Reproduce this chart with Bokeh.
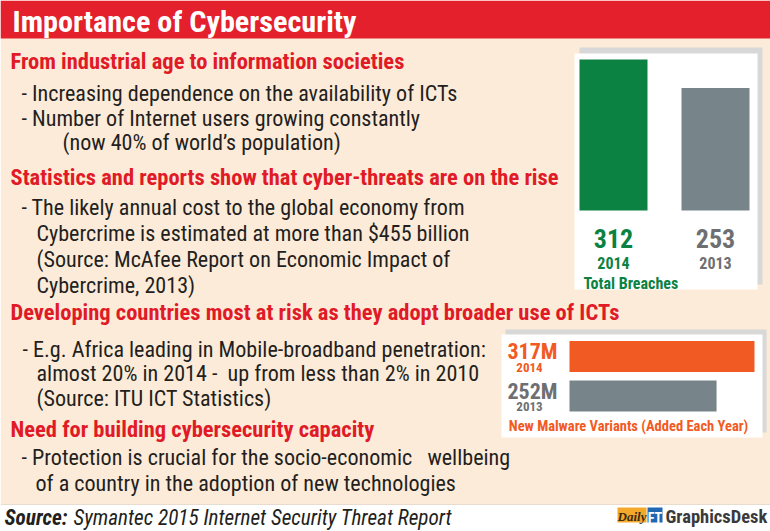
import re
from bokeh.plotting import figure
from bokeh.models import Range1d
from bokeh.core.properties import value
from bokeh.embed import file_html
from bokeh.resources import INLINE

# ---------------- data ----------------
title_text = "Importance of Cybersecurity"
heading_texts = [
    "From industrial age to information societies",
    "Statistics and reports show that cyber-threats are on the rise",
    "Developing countries most at risk as they adopt broader use of ICTs",
    "Need for building cybersecurity capacity",
]
body_texts = [
    "- Increasing dependence on the availability of ICTs",
    "- Number of Internet users growing constantly",
    "(now 40% of world\u2019s population)",
    "- The likely annual cost to the global economy from",
    "Cybercrime is estimated at more than $455 billion",
    "(Source: McAfee Report on Economic Impact of",
    "Cybercrime, 2013)",
    "- E.g. Africa leading in Mobile-broadband penetration:",
    "almost 20% in 2014 -  up from less than 2% in 2010",
    "(Source: ITU ICT Statistics)",
    "- Protection is crucial for the socio-economic   wellbeing",
    "of a country in the adoption of new technologies",
]
breach_years = ["2014", "2013"]
breach_values = [312, 253]
breach_label = "Total Breaches"
malware_years = ["2014", "2013"]
malware_values = [317, 252]  # millions
malware_label = "New Malware Variants (Added Each Year)"
source_bold = "Source:"
source_text = "Symantec 2015 Internet Security Threat Report"

# ---------------- layout / style ----------------
W, H = 770, 531
RW, RH = 770, 531
FS = W / RW
FONT = "Roboto Condensed"
K = 0.28  # baseline correction (fraction of font size)

def fs(px):
    return f"{px * FS:.1f}px"

def keep_spaces(t):
    return re.sub(r" {2,}", lambda m: "\u00a0" * len(m.group()), t)

def txt(x, y, text, size, color, style="normal", align="left", font=FONT):
    n = len(text)
    ys = [yy - K * size for yy in (y if isinstance(y, list) else [y] * n)]
    xs = x if isinstance(x, list) else [x] * n
    p.text(x=xs, y=ys, text=[keep_spaces(t) for t in text], text_font=value(font),
           text_font_style=style, text_font_size=fs(size), text_color=color,
           text_align=align, text_baseline="alphabetic")

RED = "#e3202b"
PEACH = "#fdebd9"
HRED = "#e01a26"
INK = "#231f20"
GREEN = "#0c8242"
GRAYBAR = "#77858b"
GRAYTXT = "#6d6f72"
ORANGE = "#f15a22"

p = figure(width=W, height=H, x_range=Range1d(0, RW), y_range=Range1d(RH, 0),
           output_backend="svg", toolbar_location=None, min_border=0,
           x_axis_location=None, y_axis_location=None)
p.grid.visible = False
p.outline_line_color = None
p.background_fill_color = "white"
p.border_fill_color = "white"

# backgrounds
p.quad(left=[0], right=[RW], top=[0], bottom=[504], fill_color=PEACH, line_color=None)
p.quad(left=[0], right=[RW], top=[0], bottom=[38], fill_color=RED, line_color=None)
p.segment(x0=[0], y0=[504], x1=[RW], y1=[504], line_color="#e8dccf", line_width=1)

# title
txt(12, 29, [title_text], 30.2, "white", "bold")

# headings
txt(10, [67, 183, 318, 435], heading_texts, 22.5, HRED, "bold")

# body
body_x = [21, 21, 62, 21, 36, 36, 36, 22, 36, 36, 21, 35]
body_y = [99, 124, 148, 213, 239, 265, 291, 355, 379, 404, 463, 489]
txt(body_x, body_y, body_texts, 22.1, INK)

# ---------------- breaches panel ----------------
p.quad(left=[579], right=[762], top=[47], bottom=[284], fill_color="#d8d8d8", line_color=None)
p.quad(left=[574], right=[757], top=[53], bottom=[289], fill_color="white", line_color=None)
B_BASE, B_PX = 210.0, 151.0 / 312.0
p.extra_y_ranges = {"breach": Range1d((B_BASE - RH) / B_PX, B_BASE / B_PX)}
bx = [613, 715]
p.vbar(x=bx, width=68, bottom=0, top=breach_values, y_range_name="breach",
       fill_color=[GREEN, GRAYBAR], line_color=None)
for i in range(2):
    col = [GREEN, GRAYTXT][i]
    txt(bx[i], 245, [str(breach_values[i])], 26, col, "bold", "center")
    txt(bx[i], 267, [breach_years[i]], 16, col, "bold", "center")
txt(583, 287, [breach_label], 16, GREEN, "bold")

# ---------------- malware panel ----------------
p.quad(left=[505], right=[766], top=[329], bottom=[432], fill_color="#d8d8d8", line_color=None)
p.quad(left=[501], right=[762], top=[334], bottom=[437], fill_color="white", line_color=None)
M_BASE, M_PX = 569.0, 185.0 / 317.0
p.extra_x_ranges = {"malware": Range1d(-M_BASE / M_PX, (RW - M_BASE) / M_PX)}
my = [356, 395.5]
p.hbar(y=my, height=31, left=0, right=malware_values, x_range_name="malware",
       fill_color=[ORANGE, GRAYBAR], line_color=None)
mby = [357, 397]
myy = [371, 410]
for i in range(2):
    col = [ORANGE, GRAYTXT][i]
    txt(532, mby[i], [f"{malware_values[i]}M"], 22, col, "bold", "center")
    txt(529, myy[i], [malware_years[i]], 13, col, "bold", "center")
txt(628, 430, [malware_label], 14.5, ORANGE, "bold", "center")

# ---------------- source footer ----------------
txt(4, 523, [source_bold], 21.2, INK, "bold italic")
txt(73, 523, [source_text], 21.2, INK, "italic")

# logo
p.quad(left=[617], right=[646], top=[507], bottom=[522], fill_color="#f4a82a", line_color=None)
p.quad(left=[647], right=[662], top=[507], bottom=[522], fill_color="#1f67b1", line_color=None)
txt(631.5, 520, ["Daily"], 13, "#3b2a12", "bold italic", "center", "Liberation Serif")
txt(654.5, 521, ["FT"], 14, "white", "bold", "center")
txt(665, 522, ["GraphicsDesk"], 18.5, "#3a3a3c", "bold")

open("out.html", "w").write(file_html(p, INLINE))
